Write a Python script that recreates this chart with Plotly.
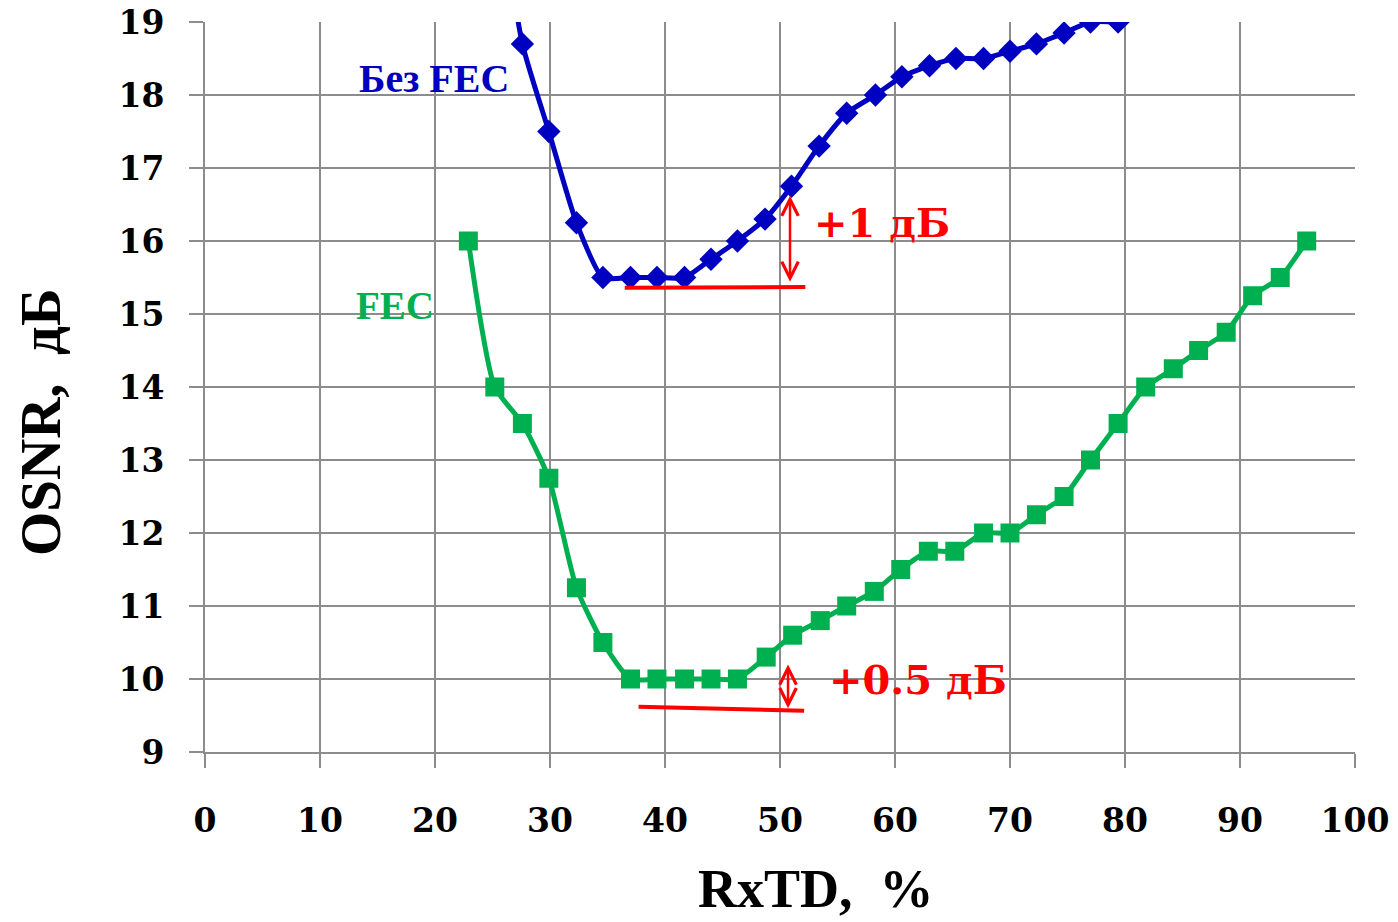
import plotly.graph_objects as go

# Без FEC (blue)
x_nofec = [25.3, 27.6, 29.9, 32.3, 34.6, 37.0, 39.3, 41.7, 44.0, 46.3, 48.7, 51.0,
           53.4, 55.8, 58.3, 60.6, 63.0, 65.3, 67.7, 70.0, 72.3, 74.7, 77.0, 79.4]
y_nofec = [21.0, 18.7, 17.5, 16.25, 15.5, 15.5, 15.5, 15.5, 15.75, 16.0, 16.3, 16.75,
           17.3, 17.75, 18.0, 18.25, 18.4, 18.5, 18.5, 18.6, 18.7, 18.85, 19.0, 19.0]

# FEC (green)
x_fec = [22.9, 25.2, 27.6, 29.9, 32.3, 34.6, 37.0, 39.3, 41.7, 44.0, 46.3, 48.8,
         51.1, 53.5, 55.8, 58.2, 60.5, 62.9, 65.2, 67.7, 70.0, 72.3, 74.7, 77.0,
         79.4, 81.8, 84.2, 86.4, 88.8, 91.1, 93.5, 95.8]
y_fec = [16.0, 14.0, 13.5, 12.75, 11.25, 10.5, 10.0, 10.0, 10.0, 10.0, 10.0, 10.3,
         10.6, 10.8, 11.0, 11.2, 11.5, 11.75, 11.75, 12.0, 12.0, 12.25, 12.5, 13.0,
         13.5, 14.0, 14.25, 14.5, 14.75, 15.25, 15.5, 16.0]

x_ticks = [0, 10, 20, 30, 40, 50, 60, 70, 80, 90, 100]
y_ticks = [9, 10, 11, 12, 13, 14, 15, 16, 17, 18, 19]

BLUE = "#0000C0"
GREEN = "#00B050"
RED = "#FF0000"
GRID = "#8C8C8C"
SERIF = "DejaVu Serif"
TSERIF = "Liberation Serif"

fig = go.Figure()
fig.add_trace(go.Scatter(
    x=x_nofec, y=y_nofec, mode="lines+markers", name="Без FEC",
    line=dict(color=BLUE, width=5, shape="spline", smoothing=0.6),
    marker=dict(symbol="diamond", size=18, color=BLUE),
    cliponaxis=True, showlegend=False))
fig.add_trace(go.Scatter(
    x=x_fec, y=y_fec, mode="lines+markers", name="FEC",
    line=dict(color=GREEN, width=5, shape="spline", smoothing=0.6),
    marker=dict(symbol="square", size=19, color=GREEN),
    cliponaxis=True, showlegend=False))

# red reference lines
fig.add_shape(type="line", x0=36.5, y0=15.36, x1=52.2, y1=15.37,
              line=dict(color=RED, width=4))
fig.add_shape(type="line", x0=37.7, y0=9.62, x1=52.1, y1=9.565,
              line=dict(color=RED, width=4))

# double-headed arrows
fig.add_annotation(x=50.87, y=16.62, ax=50.87, ay=15.42, xref="x", yref="y",
                   axref="x", ayref="y", text="", showarrow=True,
                   arrowhead=5, startarrowhead=5, arrowside="end+start",
                   arrowsize=1.3, startarrowsize=1.3, arrowwidth=2.5, arrowcolor=RED)
fig.add_annotation(x=50.7, y=10.2, ax=50.7, ay=9.58, xref="x", yref="y",
                   axref="x", ayref="y", text="", showarrow=True,
                   arrowhead=5, startarrowhead=5, arrowside="end+start",
                   arrowsize=1.3, startarrowsize=1.3, arrowwidth=2.5, arrowcolor=RED)

# labels
fig.add_annotation(x=19.9, y=18.23, xref="x", yref="y", text="<b>Без FEC</b>",
                   showarrow=False, font=dict(family=TSERIF, size=40, color=BLUE))
fig.add_annotation(x=16.5, y=15.12, xref="x", yref="y", text="<b>FEC</b>",
                   showarrow=False, font=dict(family=TSERIF, size=39, color=GREEN))
fig.add_annotation(x=58.9, y=16.26, xref="x", yref="y", text="<b>+1 дБ</b>",
                   showarrow=False, font=dict(family=SERIF, size=40, color=RED))
fig.add_annotation(x=62.0, y=9.99, xref="x", yref="y", text="<b>+0.5 дБ</b>",
                   showarrow=False, font=dict(family=SERIF, size=40, color=RED))

# axis titles
fig.add_annotation(x=0.531, y=-0.187, xref="paper", yref="paper",
                   text="<b>RxTD,  %</b>", showarrow=False,
                   xanchor="center", yanchor="middle",
                   font=dict(family=TSERIF, size=54, color="black"))
fig.add_annotation(x=-0.1435, y=0.452, xref="paper", yref="paper",
                   text="<b>OSNR,  дБ</b>", showarrow=False, textangle=-90,
                   xanchor="center", yanchor="middle",
                   font=dict(family=TSERIF, size=57, color="black"))

fig.update_xaxes(
    range=[0, 100], tickmode="array", tickvals=x_ticks,
    ticktext=[str(v) for v in x_ticks],
    showgrid=True, gridcolor=GRID, gridwidth=2,
    showline=True, linecolor=GRID, linewidth=2,
    ticks="outside", ticklen=14, tickwidth=2, tickcolor=GRID,
    ticklabelstandoff=24,
    tickfont=dict(family=SERIF, size=33, color="black", weight="bold"),
    zeroline=False, mirror=False, automargin=False)
fig.update_yaxes(
    range=[9, 19], tickmode="array", tickvals=y_ticks,
    ticktext=[str(v) for v in y_ticks],
    showgrid=True, gridcolor=GRID, gridwidth=2,
    showline=True, linecolor=GRID, linewidth=2,
    ticks="outside", ticklen=14, tickwidth=2, tickcolor=GRID,
    ticklabelstandoff=18,
    tickfont=dict(family=SERIF, size=33, color="black", weight="bold"),
    zeroline=False, automargin=False)

fig.update_layout(
    width=1398, height=922,
    margin=dict(l=205, r=43, t=22, b=170, autoexpand=False),
    plot_bgcolor="white", paper_bgcolor="white",
    showlegend=False)

fig.write_html("out.html")
